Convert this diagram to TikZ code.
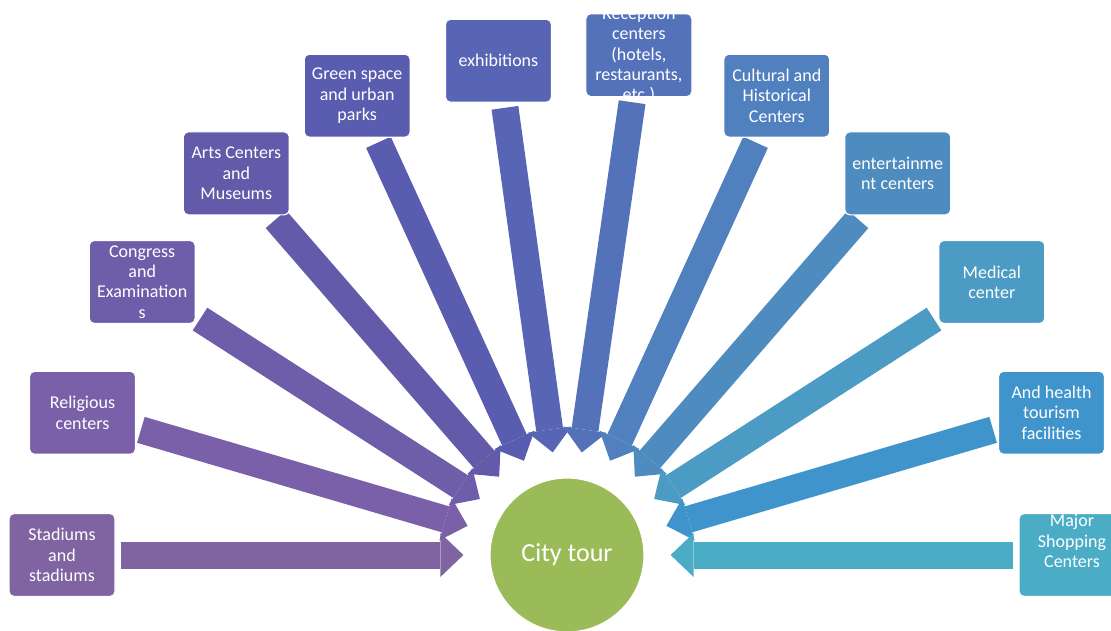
\documentclass[tikz,border=0pt]{standalone}
\usepackage{fontspec}
\setmainfont{Carlito}
\usetikzlibrary{arrows.meta,backgrounds}
\definecolor{tourgreen}{HTML}{9BBB59}
\definecolor{c1}{HTML}{8064A2}
\definecolor{c2}{HTML}{7A60A8}
\definecolor{c3}{HTML}{6E5EAA}
\definecolor{c4}{HTML}{645AAA}
\definecolor{c5}{HTML}{5A5CB0}
\definecolor{c6}{HTML}{5865B4}
\definecolor{c7}{HTML}{5472BA}
\definecolor{c8}{HTML}{5080BE}
\definecolor{c9}{HTML}{4E8CC0}
\definecolor{c10}{HTML}{4C9BC4}
\definecolor{c11}{HTML}{3F95CB}
\definecolor{c12}{HTML}{4BACC6}
\tikzset{
  spot/.style={rectangle, rounded corners=5pt, draw=white, line width=1.2pt,
    minimum width=106pt, minimum height=83pt, inner sep=2pt,
    text=white, align=center, font=\fontsize{18}{20.3}\selectfont},
  spottext/.style={text=white, align=center, font=\fontsize{18}{20.3}\selectfont},
  hub/.style={circle, fill=tourgreen, draw=white, line width=1.2pt,
    minimum size=154pt, text=white, font=\fontsize{26}{30}\selectfont},
  feed/.style={line width=27pt, -{Triangle[width=44pt,length=23pt,line width=0pt]},
    shorten <=5pt, shorten >=26pt}
}
\begin{document}
\begin{tikzpicture}[x=1pt,y=1pt]
    \useasboundingbox (0,0) rectangle (1111,630);
    \node[hub] (tour) at (567,75) {City tour};
    % the places, on a half ring round the city tour
    \node[spot, fill=c1] (stadiums) at ([shift={(180:505)}]tour.center) {Stadiums\\and\\stadiums};
    \node[spot, fill=c2] (religious) at ([shift={(163.64:505)}]tour.center) {Religious\\centers};
    \node[spot, fill=c3] (congress) at ([shift={(147.27:505)}]tour.center) {Congress\\and\\Examination\\s};
    \node[spot, fill=c4] (arts) at ([shift={(130.91:505)}]tour.center) {Arts Centers\\and\\Museums};
    \node[spot, fill=c5] (green) at ([shift={(114.55:505)}]tour.center) {Green space\\and urban\\parks};
    \node[spot, fill=c6] (exhibitions) at ([shift={(97.9:499)}]tour.center) {exhibitions};
    \node[spot, fill=c7] (reception) at ([shift={(81.82:505)}]tour.center) {};
    \node[spottext] (receptiontext) at (reception.center) {Reception\\centers\\(hotels,\\restaurants,\\etc.)};
    \node[spot, fill=c8] (cultural) at ([shift={(65.45:505)}]tour.center) {Cultural and\\Historical\\Centers};
    \node[spot, fill=c9] (entertainment) at ([shift={(49.09:505)}]tour.center) {entertainme\\nt centers};
    \node[spot, fill=c10] (medical) at ([shift={(32.73:505)}]tour.center) {Medical\\center};
    \node[spot, fill=c11] (health) at ([shift={(16.36:505)}]tour.center) {And health\\tourism\\facilities};
    \node[spot, fill=c12] (shopping) at ([shift={(0:505)}]tour.center) {};
    \node[spottext] (shoppingtext) at ([yshift=14]shopping.center) {Major\\Shopping\\Centers};
    % block arrows, under the boxes
    \begin{scope}[on background layer]
        \draw[feed, draw=c1] (stadiums) -- (tour);
        \draw[feed, draw=c2] (religious) -- (tour);
        \draw[feed, draw=c3] (congress) -- (tour);
        \draw[feed, draw=c4] (arts) -- (tour);
        \draw[feed, draw=c5] (green) -- (tour);
        \draw[feed, draw=c6] (exhibitions) -- (tour);
        \draw[feed, draw=c7] (reception) -- (tour);
        \draw[feed, draw=c8] (cultural) -- (tour);
        \draw[feed, draw=c9] (entertainment) -- (tour);
        \draw[feed, draw=c10] (medical) -- (tour);
        \draw[feed, draw=c11] (health) -- (tour);
        \draw[feed, draw=c12] (shopping) -- (tour);
    \end{scope}
\end{tikzpicture}
\end{document}
